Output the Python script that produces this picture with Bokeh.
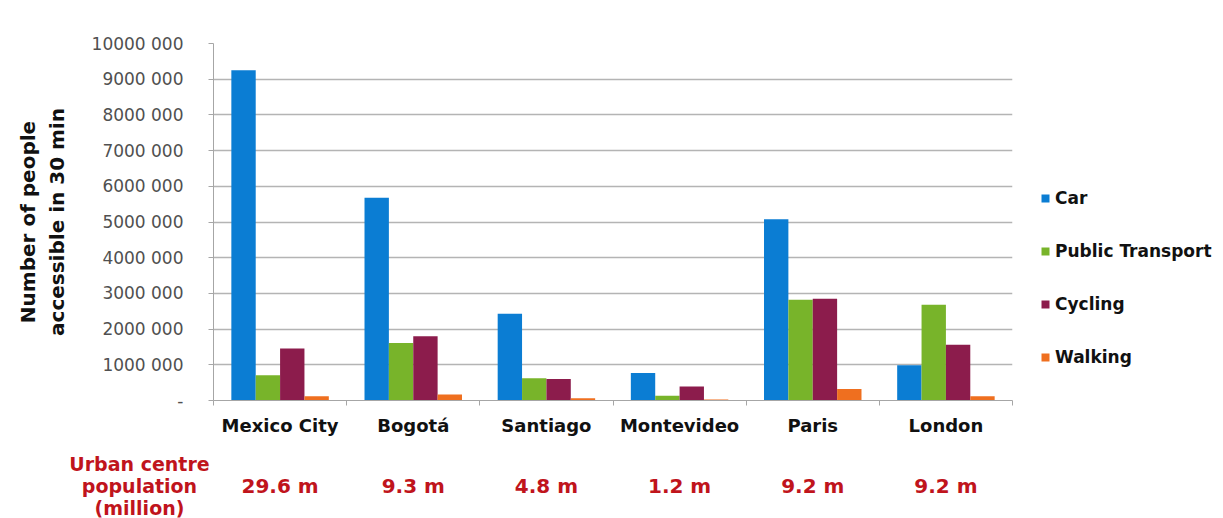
from bokeh.plotting import figure
from bokeh.layouts import column, row
from bokeh.models import (ColumnDataSource, FixedTicker, Range1d, Legend, LegendItem)
from bokeh.core.properties import value
from bokeh.embed import file_html
from bokeh.resources import INLINE

cities = ["Mexico City", "Bogotá", "Santiago", "Montevideo", "Paris", "London"]
population = ["29.6 m", "9.3 m", "4.8 m", "1.2 m", "9.2 m", "9.2 m"]
population_title = ["Urban centre", "population", "(million)"]
modes = ["Car", "Public Transport", "Cycling", "Walking"]
car = [9250000, 5680000, 2430000, 770000, 5080000, 990000]
public_transport = [710000, 1610000, 620000, 130000, 2820000, 2680000]
cycling = [1460000, 1800000, 600000, 390000, 2850000, 1560000]
walking = [120000, 170000, 60000, 30000, 320000, 120000]
y_ticks = [0, 1000000, 2000000, 3000000, 4000000, 5000000, 6000000, 7000000, 8000000, 9000000, 10000000]
y_tick_labels = ["-", "1000 000", "2000 000", "3000 000", "4000 000", "5000 000",
                 "6000 000", "7000 000", "8000 000", "9000 000", "10000 000"]

colors = ["#0b7dd3", "#78b42a", "#8c1c4c", "#ef6f1f"]
series = [car, public_transport, cycling, walking]

FONT = "DejaVu Sans"
RED = "#c0141c"
W = 1223
LEFT = 213
FRAME_R = 1012
PW = FRAME_R + 2
CAT_W = (FRAME_R - LEFT) / len(cities)
TOP_H = 450

p = figure(width=PW, height=TOP_H, output_backend="svg", toolbar_location=None,
           x_range=Range1d(0, len(cities)), y_range=Range1d(0, 10000000),
           min_border_left=LEFT, min_border_right=PW - FRAME_R, min_border_top=43,
           min_border_bottom=TOP_H - 400, frame_align=False)
p.outline_line_color = None

centers = [i + 0.5 for i in range(len(cities))]
bw = 0.183
offsets = [-1.5 * bw, -0.5 * bw, 0.5 * bw, 1.5 * bw]
for name, vals, col, off in zip(modes, series, colors, offsets):
    src = ColumnDataSource(dict(x=[c + off for c in centers], top=vals))
    p.vbar(x="x", top="top", width=bw, bottom=0, source=src,
           fill_color=col, line_color=None)

# y axis
p.yaxis.ticker = FixedTicker(ticks=y_ticks)
p.yaxis.major_label_overrides = {t: l for t, l in zip(y_ticks, y_tick_labels)}
p.yaxis.major_label_text_font = FONT
p.yaxis.major_label_text_font_size = "17px"
p.yaxis.major_label_text_color = "#505050"
p.yaxis.axis_line_color = "#a6a6a6"
p.yaxis.major_tick_line_color = "#a6a6a6"
p.yaxis.major_tick_in = 0
p.yaxis.major_tick_out = 5
p.yaxis.minor_tick_line_color = None
p.yaxis.major_label_standoff = 25
p.yaxis.axis_label = "Number of people\naccessible in 30 min"
p.yaxis.axis_label_text_font = FONT
p.yaxis.axis_label_text_font_size = "20px"
p.yaxis.axis_label_text_font_style = "bold"
p.yaxis.axis_label_text_color = "#111111"
p.yaxis.axis_label_standoff = 20

# x axis
p.xaxis.ticker = FixedTicker(ticks=centers, minor_ticks=list(range(len(cities) + 1)))
p.xaxis.major_label_overrides = {c: t for c, t in zip(centers, cities)}
p.xaxis.major_tick_line_color = None
p.xaxis.major_tick_out = 0
p.xaxis.major_tick_in = 0
p.xaxis.minor_tick_line_color = "#a6a6a6"
p.xaxis.minor_tick_in = 0
p.xaxis.minor_tick_out = 5
p.xaxis.axis_line_color = "#a6a6a6"
p.xaxis.major_label_text_font = FONT
p.xaxis.major_label_text_font_size = "18px"
p.xaxis.major_label_text_font_style = "bold"
p.xaxis.major_label_text_color = "#111111"
p.xaxis.major_label_standoff = 9

p.xgrid.grid_line_color = None
p.ygrid.ticker = FixedTicker(ticks=y_ticks)
p.ygrid.grid_line_color = "#b4b4b4"
p.ygrid.grid_line_width = 1.5

# legend panel to the right of the plot area
r = figure(width=W - PW, height=TOP_H, output_backend="svg", toolbar_location=None,
           x_range=Range1d(0, 1), y_range=Range1d(0, 1), min_border=0,
           x_axis_type=None, y_axis_type=None, frame_align=False)
r.outline_line_color = None
r.xgrid.grid_line_color = None
r.ygrid.grid_line_color = None
items = []
for name, col in zip(modes, colors):
    # legend key renderer, kept outside the visible range of this panel
    lr = r.vbar(x=[-5], top=[0], width=0.1, fill_color=col, line_color=None)
    items.append(LegendItem(label=name, renderers=[lr]))
legend = Legend(items=items, location=(1040 - PW, TOP_H - 367), orientation="vertical",
                label_text_font=FONT, label_text_font_size="17px", label_text_font_style="bold",
                label_text_color="#111111", glyph_width=10, glyph_height=10, label_height=20,
                spacing=33, label_standoff=5, border_line_color=None,
                background_fill_alpha=0, padding=0, margin=0)
r.add_layout(legend, "center")

# bottom strip: population row, sharing the category x scale
q = figure(width=W, height=518 - TOP_H, output_backend="svg", toolbar_location=None,
           x_range=Range1d(-LEFT / CAT_W, (W - LEFT) / CAT_W), y_range=Range1d(518, TOP_H),
           min_border=0, x_axis_type=None, y_axis_type=None, frame_align=False)
q.outline_line_color = None
q.xgrid.grid_line_color = None
q.ygrid.grid_line_color = None
q.text(x=centers, y=[485] * len(cities), text=population, text_align="center",
       text_baseline="middle", text_font=value(FONT), text_font_size="20px",
       text_font_style="bold", text_color=RED)
q.text(x=[(139 - LEFT) / CAT_W] * 3, y=[463, 485, 507], text=population_title,
       text_align="center", text_baseline="middle", text_font=value(FONT),
       text_font_size="19px", text_font_style="bold", text_color=RED)

layout = column(row(p, r, spacing=0), q, spacing=0)
open("out.html", "w").write(file_html(layout, INLINE))
